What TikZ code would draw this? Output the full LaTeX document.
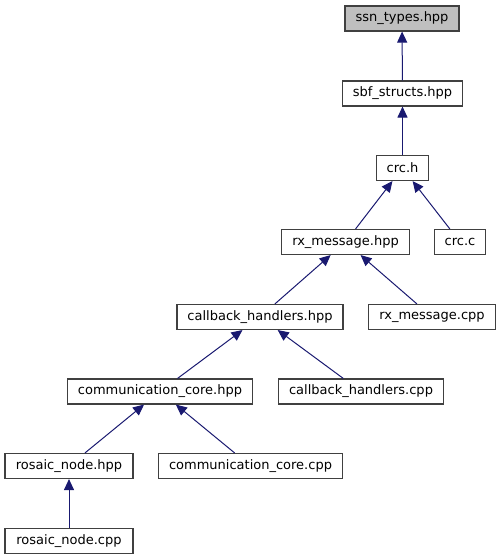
\documentclass[tikz,border=0pt]{standalone}
\usepackage{fontspec}
\setmainfont{DejaVu Sans}
\definecolor{incnavy}{RGB}{25,25,112}
\definecolor{incborder}{RGB}{64,64,64}
\definecolor{incgray}{RGB}{191,191,191}
\usetikzlibrary{arrows.meta}

\begin{document}
\begin{tikzpicture}[x=1pt,y=-1pt,
  incbox/.style={draw=incborder,line width=1.1pt,fill=white,minimum height=25pt,
    inner xsep=10.5pt,inner ysep=0pt,font=\fontsize{13}{15}\selectfont},
  incedge/.style={draw=incnavy,line width=1pt,-{Triangle[length=11pt,width=10pt]}}
]
  \useasboundingbox (0,0) rectangle (501,560);
  % Header chain (top)
  \node[incbox,fill=incgray] (ssn) at (402,18.5) {ssn\_types.hpp};
  \node[incbox] (sbf) at (402.5,93.5) {sbf\_structs.hpp};
  \node[incbox] (crch) at (402.5,168) {crc.h};
  % Row 4
  \node[incbox] (rxhpp) at (345.5,242) {rx\_message.hpp};
  \node[incbox] (crcc) at (460,242) {crc.c};
  % Row 5
  \node[incbox] (cbhpp) at (260,317) {callback\_handlers.hpp};
  \node[incbox] (rxcpp) at (432,317) {rx\_message.cpp};
  % Row 6
  \node[incbox] (cchpp) at (160,391.5) {communication\_core.hpp};
  \node[incbox] (cbcpp) at (361,391.5) {callback\_handlers.cpp};
  % Row 7
  \node[incbox,minimum width=128pt] (rnhpp) at (69,466) {rosaic\_node.hpp};
  \node[incbox] (cccpp) at (250.5,466) {communication\_core.cpp};
  % Row 8
  \node[incbox,minimum width=128pt] (rncpp) at (69,541) {rosaic\_node.cpp};
  % Include edges (child -> included file)
  \draw[incedge] (sbf) -- (ssn);
  \draw[incedge] (crch) -- (sbf);
  \draw[incedge] (rxhpp) -- (crch);
  \draw[incedge] (crcc) -- (crch);
  \draw[incedge] (cbhpp) -- (rxhpp);
  \draw[incedge] (rxcpp) -- (rxhpp);
  \draw[incedge] (cchpp) -- (cbhpp);
  \draw[incedge] (cbcpp) -- (cbhpp);
  \draw[incedge] (rnhpp) -- (cchpp);
  \draw[incedge] (cccpp) -- (cchpp);
  \draw[incedge] (rncpp) -- (rnhpp);
\end{tikzpicture}
\end{document}
